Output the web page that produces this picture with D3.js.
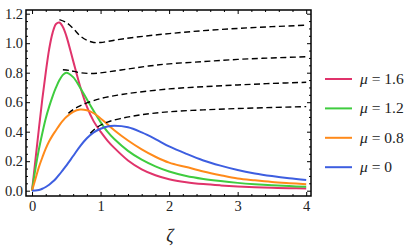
<!DOCTYPE html>
<html>
<head>
<meta charset="utf-8">
<script src="https://cdn.jsdelivr.net/npm/d3@7"></script>
<style>
  body { margin: 0; background: #fff; }
  svg text { font-family: "Liberation Serif", "DejaVu Serif", serif; }
</style>
</head>
<body>
<svg id="chart" width="415" height="249"></svg>
<script>
// valores
const zeta = [0, 0.05, 0.1, 0.15, 0.2, 0.25, 0.3, 0.35, 0.4, 0.45, 0.5, 0.6, 0.7, 0.8, 0.9,
  1.0, 1.1, 1.2, 1.4, 1.6, 1.8, 2.0, 2.25, 2.5, 2.75, 3.0, 3.25, 3.5, 3.75, 4.0];

const mu16 = [0, 0.21, 0.42, 0.62, 0.80, 0.96, 1.07, 1.13, 1.14, 1.11, 1.05, 0.88, 0.71, 0.57, 0.47,
  0.40, 0.34, 0.29, 0.205, 0.145, 0.105, 0.078, 0.058, 0.045, 0.036, 0.029, 0.024, 0.020, 0.017, 0.015];
const mu12 = [0, 0.15, 0.28, 0.39, 0.49, 0.57, 0.64, 0.70, 0.75, 0.785, 0.80, 0.77, 0.70, 0.62, 0.54,
  0.465, 0.40, 0.35, 0.27, 0.21, 0.165, 0.13, 0.10, 0.08, 0.065, 0.053, 0.044, 0.037, 0.031, 0.027];
const mu08 = [0, 0.08, 0.16, 0.225, 0.285, 0.335, 0.375, 0.41, 0.445, 0.475, 0.50, 0.535, 0.55, 0.545, 0.525,
  0.49, 0.45, 0.41, 0.34, 0.28, 0.23, 0.19, 0.16, 0.13, 0.105, 0.083, 0.07, 0.059, 0.051, 0.044];
const mu0 = [0, 0.001, 0.005, 0.013, 0.025, 0.04, 0.06, 0.083, 0.11, 0.14, 0.17, 0.235, 0.30, 0.355, 0.395,
  0.42, 0.435, 0.44, 0.43, 0.395, 0.35, 0.30, 0.25, 0.205, 0.17, 0.14, 0.117, 0.099, 0.084, 0.072];

// curvas tracejadas
const dashZeta16 = [0.40, 0.5, 0.6, 0.7, 0.8, 0.9, 1.0, 1.2, 1.5, 2.0, 2.5, 3.0, 3.5, 4.0];
const dash16 = [1.16, 1.14, 1.10, 1.05, 1.02, 1.005, 1.005, 1.02, 1.04, 1.065, 1.085, 1.10, 1.112, 1.122];
const dashZeta12 = [0.45, 0.55, 0.7, 0.9, 1.1, 1.4, 1.7, 2.0, 2.5, 3.0, 3.5, 4.0];
const dash12 = [0.82, 0.815, 0.80, 0.795, 0.805, 0.825, 0.845, 0.86, 0.875, 0.89, 0.90, 0.908];
const dashZeta08 = [0.53, 0.6, 0.7, 0.8, 1.0, 1.25, 1.5, 2.0, 2.5, 3.0, 3.5, 4.0];
const dash08 = [0.525, 0.55, 0.575, 0.595, 0.625, 0.648, 0.665, 0.69, 0.705, 0.717, 0.727, 0.735];
const dashZeta0 = [0.85, 0.95, 1.1, 1.3, 1.6, 2.0, 2.5, 3.0, 3.5, 4.0];
const dash0 = [0.39, 0.43, 0.465, 0.49, 0.515, 0.535, 0.548, 0.557, 0.564, 0.57];

const legendLabels = ["1.6", "1.2", "0.8", "0"];
const colors = ["#e0336b", "#3fcc3f", "#ff8a1a", "#3d5ee0"];
const xTicks = [0, 1, 2, 3, 4];
const yTicks = [0, 0.2, 0.4, 0.6, 0.8, 1.0, 1.2];

const svg = d3.select("#chart");

const mLeft = 26, mRight = 311, mTop = 10, mBottom = 196;

const x = d3.scaleLinear().domain([-0.088, 4.07]).range([mLeft, mRight]);
const y = d3.scaleLinear().domain([-0.036, 1.225]).range([mBottom, mTop]);

const xMinor = d3.range(0, 4.01, 0.2).filter(v => xTicks.indexOf(Math.round(v * 10) / 10) < 0);
const yMinor = d3.range(0, 1.226, 0.05).filter(v => Math.abs(v * 5 - Math.round(v * 5)) > 0.01);

const line = d3.line()
    .x(d => x(d[0]))
    .y(d => y(d[1]))
    .curve(d3.curveCatmullRom.alpha(0.5));

const plot = svg.append("g");

// curvas
const series = [mu16, mu12, mu08, mu0];
series.forEach((vals, i) => {
    plot.append("path")
        .datum(zeta.map((z, k) => [z, vals[k]]))
        .attr("fill", "none")
        .attr("stroke", colors[i])
        .attr("stroke-width", 2)
        .attr("d", line);
});

// tracejadas
const dashed = [[dashZeta16, dash16], [dashZeta12, dash12], [dashZeta08, dash08], [dashZeta0, dash0]];
dashed.forEach(([zs, vs]) => {
    plot.append("path")
        .datum(zs.map((z, k) => [z, vs[k]]))
        .attr("fill", "none")
        .attr("stroke", "#000")
        .attr("stroke-width", 1.4)
        .attr("stroke-dasharray", "6,3.5")
        .attr("d", line);
});

// eixos com ticks para dentro
function ticks(axisFn, scale, vals, size, pos, labels) {
    const ax = axisFn(scale).tickValues(vals).tickSize(size).tickSizeOuter(0);
    if (!labels) ax.tickFormat("");
    else ax.tickFormat(labels).tickPadding(axisFn === d3.axisLeft ? 3 : 5);
    const g = svg.append("g").attr("transform", pos).call(ax);
    g.select(".domain").remove();
    g.selectAll("line").attr("stroke", "#000").attr("stroke-width", 1);
    g.selectAll("text").attr("font-size", 14.5).attr("fill", "#222")
        .style("font-family", "'Liberation Serif', serif");
    return g;
}

ticks(d3.axisBottom, x, xTicks, -4, `translate(0,${mBottom})`, d3.format("d"));
ticks(d3.axisBottom, x, xMinor, -2, `translate(0,${mBottom})`);
ticks(d3.axisTop, x, xTicks, -4, `translate(0,${mTop})`);
ticks(d3.axisTop, x, xMinor, -2, `translate(0,${mTop})`);
ticks(d3.axisLeft, y, yTicks, -4, `translate(${mLeft},0)`, d3.format(".1f"));
ticks(d3.axisLeft, y, yMinor, -2, `translate(${mLeft},0)`);
ticks(d3.axisRight, y, yTicks, -4, `translate(${mRight},0)`);
ticks(d3.axisRight, y, yMinor, -2, `translate(${mRight},0)`);

// moldura
svg.append("rect")
    .attr("x", mLeft).attr("y", mTop)
    .attr("width", mRight - mLeft).attr("height", mBottom - mTop)
    .attr("fill", "none")
    .attr("stroke", "#000")
    .attr("stroke-width", 1.5);

// rótulo do eixo x
svg.append("text")
    .attr("x", 170).attr("y", 242)
    .attr("text-anchor", "middle")
    .attr("font-size", 18)
    .attr("font-style", "italic")
    .attr("fill", "#222")
    .text("ζ");

// legenda
const legend = svg.append("g");
legendLabels.forEach((lab, i) => {
    const ly = 79 + i * 29.4;
    legend.append("line")
        .attr("x1", 325).attr("x2", 352)
        .attr("y1", ly).attr("y2", ly)
        .attr("stroke", colors[i])
        .attr("stroke-width", 2);
    const t = legend.append("text")
        .attr("x", 360).attr("y", ly + 5)
        .attr("font-size", 15.5)
        .attr("fill", "#222");
    t.append("tspan").attr("font-style", "italic").text("μ");
    t.append("tspan").text(" = " + lab);
});
</script>
</body>
</html>
